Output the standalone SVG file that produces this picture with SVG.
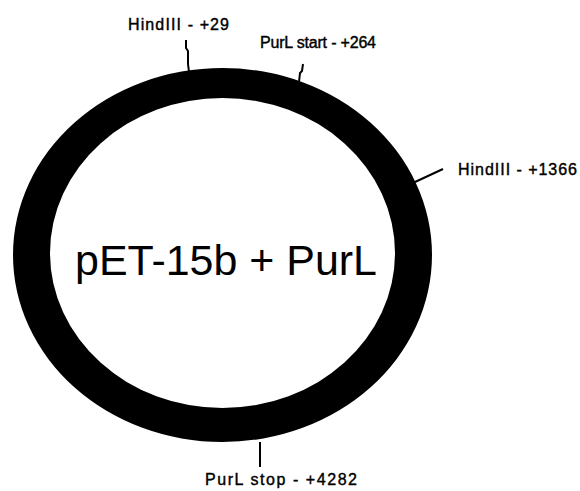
<svg xmlns="http://www.w3.org/2000/svg" width="580" height="491" viewBox="0 0 580 491">
<style>
.lbl{font-family:"Liberation Sans",Arial,sans-serif;font-size:16px;fill:#000;stroke:#000;stroke-width:0.4}
.title{font-family:"Liberation Sans",Arial,sans-serif;font-size:42px;fill:#000}
.tick{stroke:#000;stroke-width:2;fill:none}
</style>
<rect width="580" height="491" fill="#fff"/>
<g id="plasmid">
<path fill="#000" fill-rule="evenodd" d="M13,255 A209.5,187 0 1,0 432,255 A209.5,187 0 1,0 13,255 Z M50,253 A172.5,155 0 1,0 395,253 A172.5,155 0 1,0 50,253 Z"/>
<text class="title" x="75" y="275" textLength="302" lengthAdjust="spacingAndGlyphs">pET-15b + PurL</text>
</g>
<g id="connectors">
<polyline class="tick" points="186,40 186,48 188,51 188,64 189,72"/>
<polyline class="tick" points="303,64 302,71 300,73 299,82"/>
<line class="tick" x1="415" y1="182" x2="443" y2="169"/>
<line class="tick" x1="260" y1="442" x2="260" y2="467"/>
</g>
<g id="site-hindiii-29"><text class="lbl" x="128" y="30" textLength="101" lengthAdjust="spacing">HindIII - +29</text></g>
<g id="purl-start-264"><text class="lbl" x="260" y="47.5" textLength="116" lengthAdjust="spacing">PurL start - +264</text></g>
<g id="site-hindiii-1366"><text class="lbl" x="458" y="175" textLength="119" lengthAdjust="spacing">HindIII - +1366</text></g>
<g id="purl-stop-4282"><text class="lbl" x="205" y="485" textLength="152" lengthAdjust="spacing">PurL stop - +4282</text></g>
</svg>
